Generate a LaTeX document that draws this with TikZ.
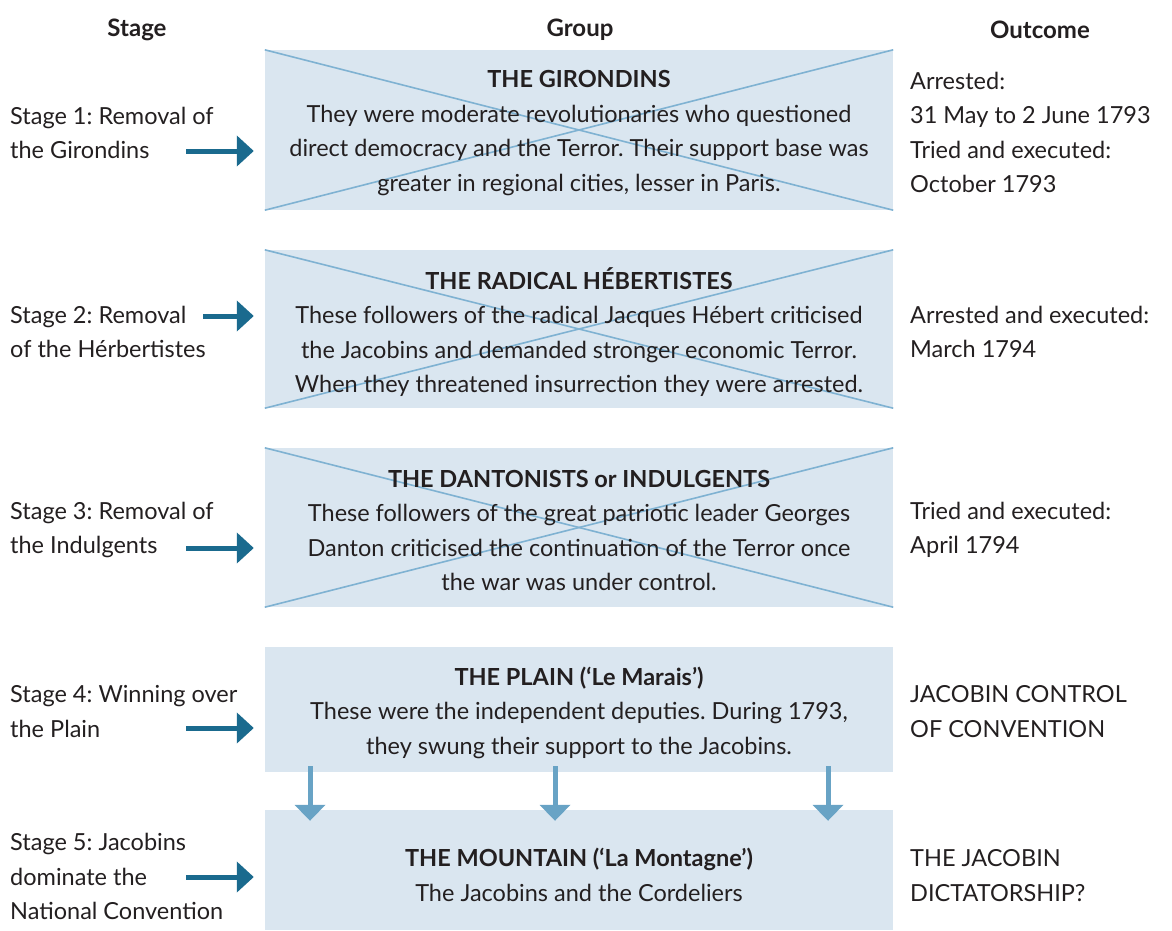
\documentclass[tikz,border=0pt]{standalone}
\usepackage{fontspec}
\setmainfont{Lato}
\usetikzlibrary{arrows.meta}
\definecolor{boxfill}{HTML}{DAE6F0}
\definecolor{crossline}{HTML}{7FB2D2}
\definecolor{darkarrow}{HTML}{1A6A8E}
\definecolor{lightarrow}{HTML}{68A3C5}
\definecolor{ink}{HTML}{231F20}
\frenchspacing
\tikzset{
  x=1pt, y=-1pt,
  txt/.style={inner sep=0pt, text=ink, font=\fontsize{23.5}{34.5}\selectfont},
  head/.style={txt, font=\fontsize{24}{34.5}\selectfont\bfseries},
  grp/.style={fill=boxfill, draw=none, minimum width=628pt, inner sep=0pt},
  grptext/.style={txt, align=center},
  side/.style={txt, align=left, anchor=west},
  cross/.style={draw=crossline, line width=1.6pt},
  stagearrow/.style={draw=darkarrow, line width=5pt, -{Triangle[width=30pt,length=17pt]}, shorten >=11pt},
  downarrow/.style={draw=lightarrow, line width=5pt, -{Triangle[width=30pt,length=16pt]}, shorten <=-6pt, shorten >=-11pt},
}
\newcommand{\crossbox}[1]{%
  \draw[cross] (#1.north west) -- (#1.south east);
  \draw[cross] (#1.south west) -- (#1.north east);}
\begin{document}
\begin{tikzpicture}
\useasboundingbox (0,0) rectangle (1172,930);

% column headings
\node[head] (hstage) at (137,30) {Stage};
\node[head] (hgroup) at (580,30) {Group};
\node[head] (hout) at (1040,30) {Outcome};

% group boxes
\node[grp, minimum height=160pt] (b1) at (579,130) {};
\node[grp, minimum height=158pt] (b2) at (579,329) {};
\node[grp, minimum height=159pt] (b3) at (579,527.5) {};
\node[grp, minimum height=125pt] (b4) at (579,709.5) {};
\node[grp, minimum height=120pt] (b5) at (579,870) {};

\crossbox{b1}
\crossbox{b2}
\crossbox{b3}

% texts inside the boxes
\node[grptext] (t1) at ([yshift=-3pt]b1.center) {\textbf{THE GIRONDINS}\\They were moderate revolutionaries who questioned\\direct democracy and the Terror. Their support base was\\greater in regional cities, lesser in Paris.};
\node[grptext] (t2) at ([yshift=-3pt]b2.center) {\textbf{THE RADICAL HÉBERTISTES}\\These followers of the radical Jacques Hébert criticised\\the Jacobins and demanded stronger economic Terror.\\When they threatened insurrection they were arrested.};
\node[grptext] (t3) at ([yshift=-3pt]b3.center) {\textbf{THE DANTONISTS or INDULGENTS}\\These followers of the great patriotic leader Georges\\Danton criticised the continuation of the Terror once\\the war was under control.};
\node[grptext] (t4) at ([yshift=-3pt]b4.center) {\textbf{THE PLAIN (‘Le Marais’)}\\These were the independent deputies. During 1793,\\they swung their support to the Jacobins.};
\node[grptext] (t5) at ([yshift=-5pt]b5.center) {\textbf{THE MOUNTAIN (‘La Montagne’)}\\The Jacobins and the Cordeliers};

% stages
\node[side] (s1) at (10,133) {Stage 1: Removal of\\the Girondins};
\node[side] (s2) at (10,332) {Stage 2: Removal\\of the Hérbertistes};
\node[side] (s3) at (10,530) {Stage 3: Removal of\\the Indulgents};
\node[side] (s4) at (10,711.5) {Stage 4: Winning over\\the Plain};
\node[side] (s5) at (10,876.5) {Stage 5: Jacobins\\dominate the\\National Convention};

% outcomes
\node[side] (o1) at (910,132.5) {Arrested:\\31 May to 2 June 1793\\Tried and executed:\\October 1793};
\node[side] (o2) at (910,332) {Arrested and executed:\\March 1794};
\node[side] (o3) at (910,530) {Tried and executed:\\April 1794};
\node[side] (o4) at (910,711.5) {JACOBIN CONTROL\\OF CONVENTION};
\node[side] (o5) at (910,875.5) {THE JACOBIN\\DICTATORSHIP?};

% stage arrows
\coordinate (a1) at (186,151);
\coordinate (a2) at (203,316);
\coordinate (a3) at (186,548);
\coordinate (a4) at (186,728);
\coordinate (a5) at (186,877);
\draw[stagearrow] (a1) -- (a1 -| b1.west);
\draw[stagearrow] (a2) -- (a2 -| b2.west);
\draw[stagearrow] (a3) -- (a3 -| b3.west);
\draw[stagearrow] (a4) -- (a4 -| b4.west);
\draw[stagearrow] (a5) -- (a5 -| b5.west);

% the Plain feeding into the Mountain
\coordinate (d1) at (310,0);
\coordinate (d2) at (555,0);
\coordinate (d3) at (828,0);
\draw[downarrow] (b4.south -| d1) -- (b5.north -| d1);
\draw[downarrow] (b4.south -| d2) -- (b5.north -| d2);
\draw[downarrow] (b4.south -| d3) -- (b5.north -| d3);
\end{tikzpicture}
\end{document}
